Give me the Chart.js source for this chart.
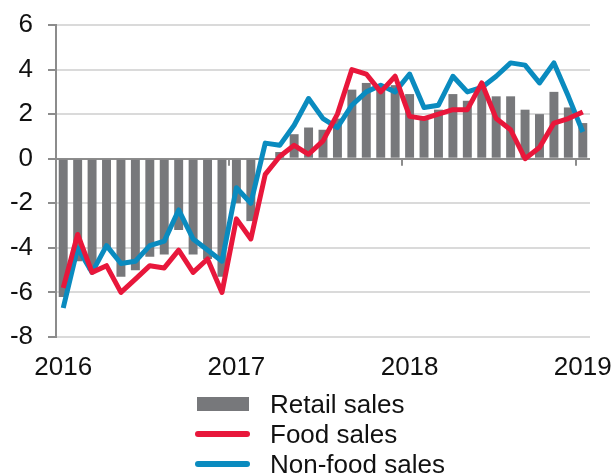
<!DOCTYPE html>
<html>
<head>
<meta charset="utf-8">
<script src="https://cdn.jsdelivr.net/npm/chart.js@4.4.1/dist/chart.umd.min.js"></script>
<style>
  html, body { margin: 0; padding: 0; background: #fff; }
  #wrap { position: relative; width: 614px; height: 476px; overflow: hidden; }
  #legend { position: absolute; left: 195px; top: 389px; font: 26px "Liberation Sans", Arial, sans-serif; color: #111; }
  .row { height: 30px; line-height: 30px; display: flex; align-items: center; white-space: nowrap; }
  .sym { width: 55px; margin-right: 20px; display: flex; justify-content: center; align-items: center; }
</style>
</head>
<body>
<div id="wrap">
  <canvas id="salesChart" width="614" height="476"></canvas>
  <div id="legend"></div>
</div>
<script>
const months = [
  '2016-01', '2016-02', '2016-03', '2016-04', '2016-05', '2016-06', '2016-07', '2016-08', '2016-09', '2016-10', '2016-11', '2016-12',
  '2017-01', '2017-02', '2017-03', '2017-04', '2017-05', '2017-06', '2017-07', '2017-08', '2017-09', '2017-10', '2017-11', '2017-12',
  '2018-01', '2018-02', '2018-03', '2018-04', '2018-05', '2018-06', '2018-07', '2018-08', '2018-09', '2018-10', '2018-11', '2018-12',
  '2019-01'
];

const retailSales = [
  -6.2, -4.6, -5.0, -4.0, -5.3, -5.0, -4.4, -4.3, -3.2, -4.3, -4.5, -5.3,
  -2.0, -2.8, 0.0, 0.3, 1.1, 1.4, 1.3, 1.8, 3.1, 3.4, 3.2, 3.3,
  2.9, 1.9, 2.2, 2.9, 2.6, 3.2, 2.8, 2.8, 2.2, 2.0, 3.0, 2.3,
  1.6
];

const foodSales = [
  -5.8, -3.4, -5.1, -4.8, -6.0, -5.4, -4.8, -4.9, -4.1, -5.1, -4.5, -6.0,
  -2.7, -3.6, -0.7, 0.1, 0.6, 0.2, 0.8, 2.0, 4.0, 3.8, 3.0, 3.7,
  1.9, 1.8, 2.0, 2.2, 2.2, 3.4, 1.8, 1.3, 0.0, 0.5, 1.6, 1.8,
  2.1
];

const nonFoodSales = [
  -6.7, -4.0, -5.1, -3.9, -4.7, -4.6, -3.9, -3.7, -2.3, -3.6, -4.1, -4.6,
  -1.3, -2.0, 0.7, 0.6, 1.5, 2.7, 1.8, 1.4, 2.4, 3.0, 3.3, 3.0,
  3.8, 2.3, 2.4, 3.7, 3.0, 3.2, 3.7, 4.3, 4.2, 3.4, 4.3, 2.8,
  1.2
];

const fontFamily = '"Liberation Sans", Arial, sans-serif';
const axisGrey = '#8c8c8c';

// small tick marks hanging below the zero line at each new year
const yearMarks = {
  id: 'yearMarks',
  beforeDatasetsDraw(chart) {
    const x = chart.scales.x;
    const y0 = chart.scales.y.getPixelForValue(0);
    const step = x.getPixelForValue(1) - x.getPixelForValue(0);
    const ctx = chart.ctx;
    ctx.save();
    ctx.strokeStyle = axisGrey;
    ctx.lineWidth = 2;
    months.forEach((m, i) => {
      if (i > 0 && m.endsWith('-01')) {
        const px = Math.round(x.getPixelForValue(i) - step / 2);
        ctx.beginPath();
        ctx.moveTo(px, y0);
        ctx.lineTo(px, y0 + 7);
        ctx.stroke();
      }
    });
    ctx.restore();
  }
};

const data = {
  labels: months,
  datasets: [
    {
      type: 'line',
      label: 'Food sales',
      data: foodSales,
      borderColor: '#e8173b',
      borderWidth: 5,
      pointRadius: 0,
      tension: 0,
      borderJoinStyle: 'round',
      order: 1
    },
    {
      type: 'line',
      label: 'Non-food sales',
      data: nonFoodSales,
      borderColor: '#0a8bbf',
      borderWidth: 5,
      pointRadius: 0,
      tension: 0,
      borderJoinStyle: 'round',
      order: 2
    },
    {
      type: 'bar',
      label: 'Retail sales',
      data: retailSales,
      backgroundColor: '#77787b',
      barPercentage: 0.62,
      categoryPercentage: 1,
      order: 3
    }
  ]
};

const config = {
  data: data,
  options: {
    responsive: false,
    animation: false,
    devicePixelRatio: 1,
    layout: { padding: { top: 25, right: 24, bottom: 0, left: 0 } },
    plugins: { legend: { display: false }, tooltip: { enabled: false } },
    scales: {
      x: {
        type: 'category',
        offset: true,
        grid: { display: false, drawTicks: false },
        border: { display: false },
        ticks: {
          autoSkip: false,
          maxRotation: 0,
          padding: 15,
          color: '#111',
          font: { size: 26, family: fontFamily },
          callback: (v, i) => months[i].endsWith('-01') ? months[i].slice(0, 4) : ''
        },
        afterFit: (s) => { s.height = 139; s.paddingLeft = 0; s.paddingRight = 0; }
      },
      y: {
        min: -8,
        max: 6,
        ticks: { stepSize: 2, padding: 15, color: '#111', font: { size: 26, family: fontFamily } },
        grid: {
          color: (ctx) => ctx.tick && ctx.tick.value === 0 ? axisGrey : '#dadada',
          lineWidth: 2,
          tickLength: 8,
          tickColor: axisGrey
        },
        border: { color: axisGrey, width: 2 },
        afterFit: (s) => { s.width = 56; s.paddingTop = 0; s.paddingBottom = 0; }
      }
    }
  },
  plugins: [yearMarks]
};

const salesChart = new Chart(document.getElementById('salesChart'), config);

// legend in the order of the reference, one entry per row
const legend = document.getElementById('legend');
['Retail sales', 'Food sales', 'Non-food sales'].forEach((name) => {
  const ds = data.datasets.find((d) => d.label === name);
  const sym = ds.type === 'bar'
    ? `<div style="width:52px;height:14px;background:${ds.backgroundColor}"></div>`
    : `<div style="width:55px;height:6px;border-radius:3px;background:${ds.borderColor}"></div>`;
  legend.insertAdjacentHTML('beforeend', `<div class="row"><div class="sym">${sym}</div><span>${name}</span></div>`);
});
</script>
</body>
</html>
